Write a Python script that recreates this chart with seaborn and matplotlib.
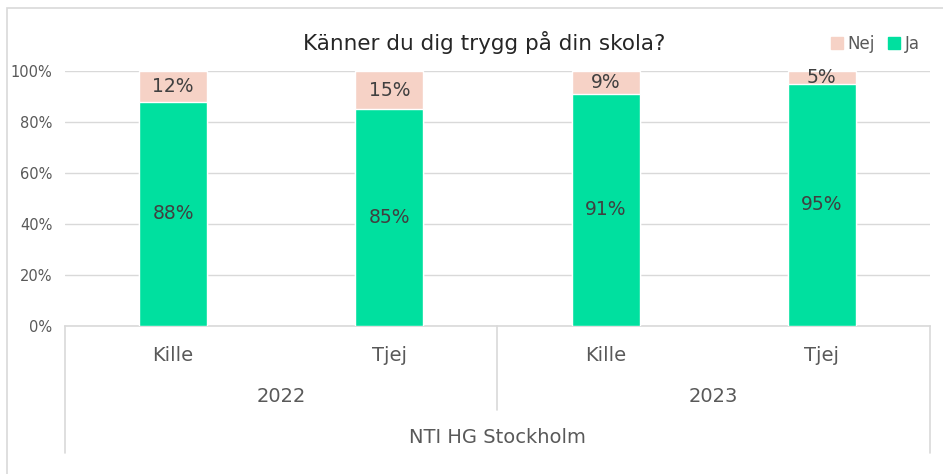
import matplotlib
matplotlib.use('Agg')
import matplotlib.pyplot as plt
import matplotlib.transforms as mtransforms
from matplotlib.patches import Rectangle, Patch
import seaborn as sns
import pandas as pd

# data
kon = ["Kille", "Tjej", "Kille", "Tjej"]
ar = ["2022", "2023"]
skola = "NTI HG Stockholm"
ja = [88, 85, 91, 95]
nej = [12, 15, 9, 5]

ja_farg = "#00E09F"
nej_farg = "#F6D2C6"
text_farg = "#595959"
linje_farg = "#D9D9D9"

sns.set_style("white")
plt.rcParams['font.family'] = ['DejaVu Sans']

df = pd.DataFrame({"pos": range(len(kon)), "ja": ja, "nej": nej})
df["total"] = df["ja"] + df["nej"]

fig = plt.figure(figsize=(9.43, 4.74), dpi=100)
ax = fig.add_axes([65 / 943, 1 - 326 / 474, (930 - 65) / 943, 255 / 474])

# staplade staplar: totalen i Nej-farg, Ja ovanpa
sns.barplot(data=df, x="pos", y="total", color=nej_farg, width=0.315,
            saturation=1, ax=ax, zorder=2)
sns.barplot(data=df, x="pos", y="ja", color=ja_farg, width=0.315,
            saturation=1, ax=ax, zorder=3)

for i, (j, n) in enumerate(zip(ja, nej)):
    ax.text(i, j / 2, f"{j}%", ha="center", va="center", fontsize=13.5,
            color="#404040", zorder=4)
    ax.text(i, j + n / 2, f"{n}%", ha="center", va="center", fontsize=13.5,
            color="#404040", zorder=4)

ax.set_xlim(-0.5, 3.5)
ax.set_ylim(0, 100)
ax.set_yticks(range(0, 101, 20))
ax.set_yticklabels([f"{v}%" for v in range(0, 101, 20)])
ax.tick_params(axis="y", length=0, labelsize=10.5, labelcolor=text_farg, pad=9)
ax.set_xticks([])
ax.set_xlabel("")
ax.set_ylabel("")
ax.yaxis.grid(True, color=linje_farg, linewidth=1, zorder=0)
ax.set_axisbelow(True)
for s in ["top", "right", "left"]:
    ax.spines[s].set_visible(False)
ax.spines["bottom"].set_color(linje_farg)
ax.spines["bottom"].set_linewidth(1.2)

# kategoriaxel i flera nivaer
trans = mtransforms.blended_transform_factory(ax.transData, ax.transAxes)
for x, y_end in [(-0.5, -0.498), (1.5, -0.329), (3.5, -0.498)]:
    ax.plot([x, x], [0, y_end], color=linje_farg, linewidth=1.2,
            transform=trans, clip_on=False)
for i, k in enumerate(kon):
    ax.text(i, -0.114, k, ha="center", va="center", fontsize=14,
            color=text_farg, transform=trans)
for i, a in enumerate(ar):
    ax.text(0.5 + 2 * i, -0.278, a, ha="center", va="center", fontsize=14,
            color=text_farg, transform=trans)
ax.text(1.5, -0.439, skola, ha="center", va="center", fontsize=14,
        color=text_farg, transform=trans)

fig.text(484 / 943, 1 - 42 / 474, "Känner du dig trygg på din skola?",
         ha="center", va="center", fontsize=15.5, color="#262626")

handles = [Patch(color=nej_farg, label="Nej"), Patch(color=ja_farg, label="Ja")]
fig.legend(handles=handles, loc="center right", bbox_to_anchor=(935 / 943, 1 - 44 / 474),
           ncol=2, frameon=False, fontsize=12, handlelength=0.7, handleheight=0.7,
           handletextpad=0.3, columnspacing=0.8, labelcolor=text_farg)

# ram runt diagrammet
fig.patches.append(Rectangle((7 / 943, -0.1), 1.2, 1.1 - 8 / 474, transform=fig.transFigure,
                             fill=False, edgecolor=linje_farg, linewidth=1.2))

fig.savefig("out.png", dpi=100)
